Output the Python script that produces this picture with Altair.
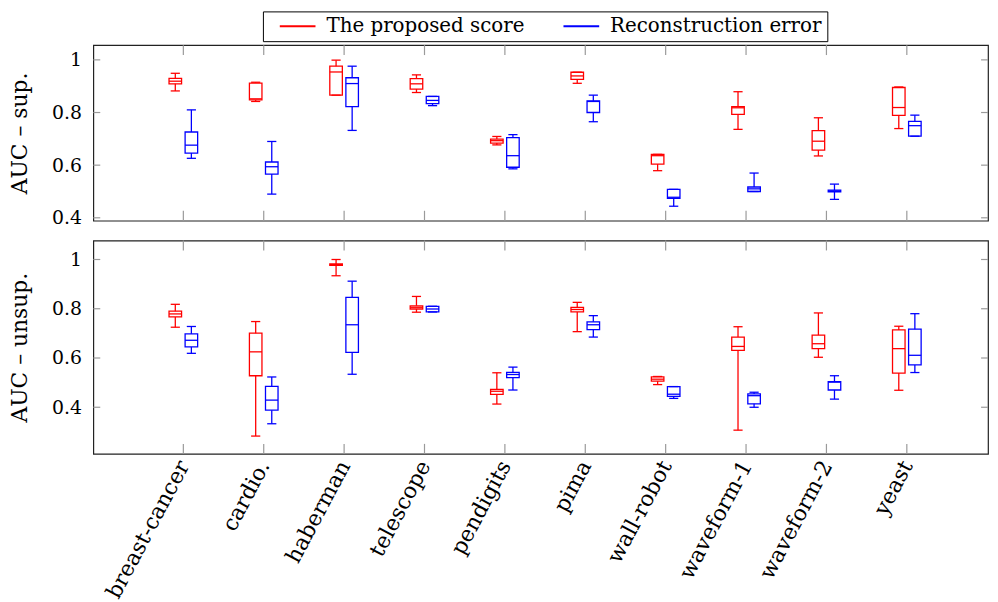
import json
import altair as alt
import pandas as pd

# ---------------- data ----------------
datasets = ["breast-cancer", "cardio.", "haberman", "telescope", "pendigits",
            "pima", "wall-robot", "waveform-1", "waveform-2", "yeast"]
methods = ["The proposed score", "Reconstruction error"]

# each entry: [lower whisker, q1, median, q3, upper whisker]
sup_proposed = [
    [0.882, 0.909, 0.919, 0.930, 0.949],
    [0.842, 0.848, 0.852, 0.912, 0.915],
    [0.866, 0.866, 0.954, 0.976, 0.999],
    [0.876, 0.889, 0.909, 0.929, 0.943],
    [0.677, 0.684, 0.693, 0.699, 0.709],
    [0.911, 0.926, 0.939, 0.953, 0.953],
    [0.579, 0.604, 0.636, 0.641, 0.641],
    [0.736, 0.793, 0.818, 0.822, 0.879],
    [0.635, 0.657, 0.691, 0.731, 0.780],
    [0.739, 0.789, 0.819, 0.895, 0.897],
]
sup_recon = [
    [0.626, 0.646, 0.676, 0.726, 0.810],
    [0.490, 0.566, 0.594, 0.612, 0.690],
    [0.732, 0.822, 0.910, 0.932, 0.976],
    [0.826, 0.834, 0.846, 0.861, 0.861],
    [0.586, 0.592, 0.636, 0.705, 0.716],
    [0.765, 0.800, 0.842, 0.844, 0.866],
    [0.444, 0.474, 0.478, 0.508, 0.508],
    [0.500, 0.500, 0.510, 0.517, 0.570],
    [0.470, 0.499, 0.502, 0.505, 0.528],
    [0.710, 0.710, 0.750, 0.766, 0.790],
]
unsup_proposed = [
    [0.725, 0.767, 0.779, 0.790, 0.818],
    [0.283, 0.528, 0.625, 0.701, 0.748],
    [0.934, 0.976, 0.979, 0.982, 1.000],
    [0.786, 0.799, 0.806, 0.812, 0.850],
    [0.413, 0.452, 0.465, 0.473, 0.540],
    [0.707, 0.787, 0.797, 0.806, 0.826],
    [0.492, 0.506, 0.514, 0.523, 0.525],
    [0.307, 0.631, 0.647, 0.685, 0.727],
    [0.603, 0.638, 0.658, 0.693, 0.783],
    [0.469, 0.539, 0.638, 0.714, 0.729],
]
unsup_recon = [
    [0.619, 0.645, 0.672, 0.698, 0.728],
    [0.333, 0.388, 0.429, 0.485, 0.523],
    [0.534, 0.623, 0.735, 0.846, 0.912],
    [0.787, 0.787, 0.799, 0.810, 0.810],
    [0.470, 0.520, 0.533, 0.542, 0.563],
    [0.685, 0.715, 0.735, 0.747, 0.772],
    [0.436, 0.444, 0.453, 0.484, 0.484],
    [0.400, 0.414, 0.447, 0.454, 0.461],
    [0.433, 0.470, 0.502, 0.504, 0.528],
    [0.541, 0.572, 0.611, 0.717, 0.780],
]
y_tick_values = [0.4, 0.6, 0.8, 1.0]

# ---------------- styling ----------------
FONT = "DejaVu Serif"
W = 902
OFFSET = 0.1
BOX_HALF = 0.078
CAP_HALF = 0.057
X_DOMAIN = [-1.12, 10.01]
colors = ["#ff0000", "#0000ff"]


def build(stats, method, offset):
    rows = []
    for i, (name, s) in enumerate(zip(datasets, stats)):
        c = i + offset
        rows.append(dict(dataset=name, method=method, pos=c,
                         left=c - BOX_HALF, right=c + BOX_HALF,
                         capl=c - CAP_HALF, capr=c + CAP_HALF,
                         lo=s[0], q1=s[1], med=s[2], q3=s[3], hi=s[4]))
    return rows


label_expr = json.dumps(datasets) + "[datum.value]"

legend = alt.Legend(title=None, orient="none", legendX=171, legendY=-34,
                    direction="horizontal", symbolType="M-2,0H2", symbolSize=324,
                    symbolStrokeWidth=2, labelFont=FONT, labelFontSize=20,
                    labelColor="black", labelOffset=19, columnPadding=27,
                    padding=5, symbolOffset=20, strokeColor="black",
                    fillColor="white", labelLimit=400)
color = alt.Color("method:N", scale=alt.Scale(domain=methods, range=colors),
                  legend=legend)


def panel(prop, recon, title, height, ydomain, show_labels):
    df = pd.DataFrame(build(prop, methods[0], -OFFSET) + build(recon, methods[1], OFFSET))
    xscale = alt.Scale(domain=X_DOMAIN, nice=False, zero=False)
    yscale = alt.Scale(domain=ydomain, nice=False, zero=False)
    if show_labels:
        xaxis = alt.Axis(values=list(range(len(datasets))), labelExpr=label_expr,
                         ticks=False, domain=False, grid=False, title=None,
                         labelAngle=-62, labelAlign="right", labelBaseline="middle",
                         labelPadding=8, labelFont=FONT, labelFontSize=22,
                         labelColor="black", labelOverlap=False, labelFlush=False)
    else:
        xaxis = None
    yaxis = alt.Axis(values=y_tick_values, format="~g", ticks=False, domain=False,
                     grid=False, title=title, titleFont=FONT, titleFontSize=22,
                     titleFontWeight="normal", titleColor="black", titlePadding=20,
                     labelFont=FONT, labelFontSize=19, labelColor="black",
                     labelPadding=12, labelFlush=False)

    base = alt.Chart(df)
    sw = 1.3
    box = base.mark_rect(filled=False, strokeWidth=sw).encode(
        x=alt.X("left:Q", scale=xscale, axis=xaxis), x2="right:Q",
        y=alt.Y("q1:Q", scale=yscale, axis=yaxis), y2="q3:Q", color=color)
    median = base.mark_rule(strokeWidth=sw).encode(
        x=alt.X("left:Q", scale=xscale, axis=xaxis), x2="right:Q",
        y=alt.Y("med:Q", scale=yscale, axis=yaxis), color=color)
    wlow = base.mark_rule(strokeWidth=sw).encode(
        x=alt.X("pos:Q", scale=xscale, axis=xaxis),
        y=alt.Y("lo:Q", scale=yscale, axis=yaxis), y2="q1:Q", color=color)
    whigh = base.mark_rule(strokeWidth=sw).encode(
        x=alt.X("pos:Q", scale=xscale, axis=xaxis),
        y=alt.Y("q3:Q", scale=yscale, axis=yaxis), y2="hi:Q", color=color)
    clow = base.mark_rule(strokeWidth=sw).encode(
        x=alt.X("capl:Q", scale=xscale, axis=xaxis), x2="capr:Q",
        y=alt.Y("lo:Q", scale=yscale, axis=yaxis), color=color)
    chigh = base.mark_rule(strokeWidth=sw).encode(
        x=alt.X("capl:Q", scale=xscale, axis=xaxis), x2="capr:Q",
        y=alt.Y("hi:Q", scale=yscale, axis=yaxis), color=color)

    xt = pd.DataFrame({"idx": list(range(len(datasets)))})
    yt = pd.DataFrame({"yv": y_tick_values})
    tick_color = "#9a9a9a"
    xt_top = alt.Chart(xt).mark_rule(color=tick_color, strokeWidth=1.2).encode(
        x=alt.X("idx:Q", scale=xscale, axis=xaxis), y=alt.value(0), y2=alt.value(10))
    xt_bot = alt.Chart(xt).mark_rule(color=tick_color, strokeWidth=1.2).encode(
        x=alt.X("idx:Q", scale=xscale, axis=xaxis), y=alt.value(height - 10),
        y2=alt.value(height))
    yt_l = alt.Chart(yt).mark_rule(color=tick_color, strokeWidth=1.2).encode(
        y=alt.Y("yv:Q", scale=yscale, axis=yaxis), x=alt.value(0), x2=alt.value(7))
    yt_r = alt.Chart(yt).mark_rule(color=tick_color, strokeWidth=1.2).encode(
        y=alt.Y("yv:Q", scale=yscale, axis=yaxis), x=alt.value(W - 7), x2=alt.value(W))

    return alt.layer(xt_top, xt_bot, yt_l, yt_r, wlow, whigh, clow, chigh, box, median
                     ).properties(width=W, height=height)


top = panel(sup_proposed, sup_recon, "AUC – sup.", 177, [0.389, 1.056], False)
bottom = panel(unsup_proposed, unsup_recon, "AUC – unsup.", 215, [0.211, 1.077], True)

chart = alt.vconcat(top, bottom, spacing=10).resolve_scale(
    x="independent", y="independent", color="shared"
).resolve_legend(color="shared").properties(
    padding={"left": 0, "top": 0, "right": 0, "bottom": 0}
).configure_view(stroke="#222222", strokeWidth=1.2)

chart.save("out.html", embed_options={"renderer": "svg", "actions": False})
